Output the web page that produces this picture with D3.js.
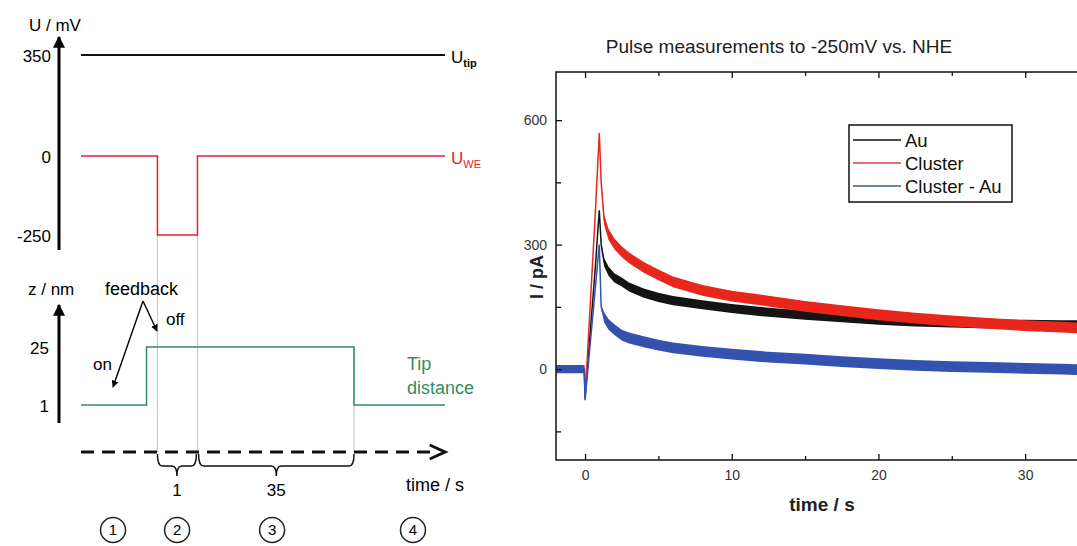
<!DOCTYPE html>
<html>
<head>
<meta charset="utf-8">
<script src="https://cdn.jsdelivr.net/npm/d3@7"></script>
<style>
  body { margin: 0; background: #fff; }
  svg { display: block; }
  text { font-family: "Liberation Sans", Arial, sans-serif; }
</style>
</head>
<body>
<svg width="1077" height="546"></svg>
<script>
// ---------- left: schematic of the pulse experiment ----------
// schematic time runs 0..100 (not to scale)
const uTipTime = [0, 100];
const uTipValue = [350, 350];
const uWeTime = [0, 21, 21, 32, 32, 100];
const uWeValue = [0, 0, -250, -250, 0, 0];
const zTime = [0, 18, 18, 75, 75, 100];
const zValue = [1, 1, 25, 25, 1, 1];
const uTicks = [350, 0, -250];
const zTicks = [25, 1];
const braceSpans = [[21, 31.7], [32.3, 75]];
const braceLabels = ['1', '35'];
const phaseLabels = ['1', '2', '3', '4'];
const phaseCenters = [8.8, 26.4, 52.5, 91.2];

// ---------- right: measured current transients ----------
const timeS = [-2, -0.05, 0, 0.7, 0.97, 1.1, 1.3, 1.6, 2, 2.5, 3, 4, 5, 6, 8, 10, 12.5, 15, 17.5, 20, 22.5, 25, 27.5, 30, 32.5, 35];
const auCurrent =      [0, 0, -70, 245, 383, 300, 258, 236, 220, 210, 198, 183, 173, 165, 155, 146, 137, 130, 124, 118, 114, 111, 109, 108, 107, 106];
const clusterCurrent = [0, 0, -70, 375, 569, 450, 360, 325, 302, 283, 268, 245, 227, 210, 190, 176, 164, 151, 141, 131, 123, 116, 110, 105, 101, 97];
const diffCurrent =    [0, 0, -75, 195, 300, 150, 125, 108, 95, 82, 75, 66, 58, 51, 43, 36, 29, 24, 18, 13, 9, 6, 4, 2, 0, -3];
// half width of the noise band (pA)
const auNoise =      [9, 9, 0, 0, 0, 4, 10, 11, 11, 11, 11, 11, 11, 11, 11, 11, 11, 11, 11, 11, 11, 11, 11, 11, 11, 11];
const clusterNoise = [9, 9, 0, 0, 0, 5, 12, 13, 13, 13, 13, 13, 13, 13, 13, 13, 13, 13, 13, 13, 13, 13, 13, 13, 13, 13];
const diffNoise =    [10, 10, 0, 0, 0, 5, 12, 13, 13, 13, 13, 13, 13, 13, 13, 13, 13, 13, 13, 13, 13, 13, 13, 13, 13, 13];
const seriesNames = ['Au', 'Cluster', 'Cluster - Au'];
const xMajor = [0, 10, 20, 30];
const xMinor = [5, 15, 25];
const yMajor = [0, 300, 600];
const yMinor = [-150, 150, 450];

const svg = d3.select('svg');

// ================= schematic =================
const sx = d3.scaleLinear().domain([0, 100]).range([81, 445]);
const su = d3.scaleLinear().domain([-250, 0, 350]).range([235, 156, 55]);
const sz = d3.scaleLinear().domain([1, 25]).range([405, 347]);
const green = '#2f8f5f';

svg.append('defs').html(`
  <marker id="tri" viewBox="0 0 10 10" refX="9" refY="5" markerWidth="4" markerHeight="4" orient="auto">
    <path d="M0,0 L10,5 L0,10 z" fill="#000"/>
  </marker>
  <marker id="triSmall" viewBox="0 0 10 10" refX="9" refY="5" markerWidth="5" markerHeight="5" orient="auto">
    <path d="M0,0 L10,5 L0,10 z" fill="#000"/>
  </marker>
  <clipPath id="plotClip"><rect x="556" y="72" width="524" height="388"/></clipPath>
`);

const left = svg.append('g');

// grey guide lines
left.selectAll('.guide')
    .data([21, 32])
    .join('line')
    .attr('x1', d => sx(d)).attr('x2', d => sx(d))
    .attr('y1', su(-250)).attr('y2', 452)
    .attr('stroke', '#c9c9c9').attr('stroke-width', 1.2);
left.append('line')
    .attr('x1', sx(75)).attr('x2', sx(75))
    .attr('y1', sz(25)).attr('y2', 452)
    .attr('stroke', '#c9c9c9').attr('stroke-width', 1.2);

// vertical axes with arrows
left.append('line').attr('x1', 59).attr('x2', 59).attr('y1', 250).attr('y2', 37)
    .attr('stroke', '#000').attr('stroke-width', 3).attr('marker-end', 'url(#tri)');
left.append('line').attr('x1', 59).attr('x2', 59).attr('y1', 423).attr('y2', 305)
    .attr('stroke', '#000').attr('stroke-width', 3).attr('marker-end', 'url(#tri)');

left.append('text').text('U / mV').attr('x', 29).attr('y', 31).style('font-size', '17px');
left.append('text').text('z / nm').attr('x', 28).attr('y', 295).style('font-size', '17px');
left.append('text').text('feedback').attr('x', 105).attr('y', 295).style('font-size', '18px');

left.selectAll('.uTick')
    .data(uTicks)
    .join('text')
    .text(d => d)
    .attr('x', 51).attr('y', d => su(d)).attr('dy', '0.4em')
    .attr('text-anchor', 'end').style('font-size', '17px');
left.selectAll('.zTick')
    .data(zTicks)
    .join('text')
    .text(d => d)
    .attr('x', 49).attr('y', d => sz(d)).attr('dy', '0.4em')
    .attr('text-anchor', 'end').style('font-size', '17px');

const stepLine = (xs, ys, yScale) => d3.line()
    .x((d, i) => sx(xs[i]))
    .y(d => yScale(d))(ys);

left.append('path').attr('d', stepLine(uTipTime, uTipValue, su))
    .attr('fill', 'none').attr('stroke', '#111').attr('stroke-width', 2);
left.append('path').attr('d', stepLine(uWeTime, uWeValue, su))
    .attr('fill', 'none').attr('stroke', '#e4232b').attr('stroke-width', 1.5);
left.append('path').attr('d', stepLine(zTime, zValue, sz))
    .attr('fill', 'none').attr('stroke', green).attr('stroke-width', 1.5);

const uTipLabel = left.append('text').attr('x', 451).attr('y', su(350) + 8).style('font-size', '17px');
uTipLabel.append('tspan').text('U');
uTipLabel.append('tspan').text('tip').attr('dy', 4).style('font-size', '11px').style('font-weight', 'bold');
const uWeLabel = left.append('text').attr('x', 451).attr('y', su(0) + 8).style('font-size', '17px').attr('fill', '#e4232b');
uWeLabel.append('tspan').text('U');
uWeLabel.append('tspan').text('WE').attr('dy', 4).style('font-size', '11px');

left.append('text').text('Tip').attr('x', 407).attr('y', 370).attr('fill', green).style('font-size', '18px');
left.append('text').text('distance').attr('x', 407).attr('y', 394).attr('fill', green).style('font-size', '18px');

// feedback on / off arrows
left.append('line').attr('x1', 143).attr('y1', 301).attr('x2', 113).attr('y2', 387)
    .attr('stroke', '#000').attr('stroke-width', 1.4).attr('marker-end', 'url(#triSmall)');
left.append('line').attr('x1', 143).attr('y1', 301).attr('x2', 157).attr('y2', 331)
    .attr('stroke', '#000').attr('stroke-width', 1.4).attr('marker-end', 'url(#triSmall)');
left.append('text').text('on').attr('x', 93).attr('y', 370).style('font-size', '17px');
left.append('text').text('off').attr('x', 166).attr('y', 325).style('font-size', '17px');

// dashed time arrow
left.append('line').attr('x1', sx(0)).attr('x2', sx(98)).attr('y1', 452).attr('y2', 452)
    .attr('stroke', '#111').attr('stroke-width', 3).attr('stroke-dasharray', '13,8');
left.append('polyline')
    .attr('points', `${sx(98) - 8},445 ${sx(100)},452 ${sx(98) - 8},459`)
    .attr('fill', 'none').attr('stroke', '#111').attr('stroke-width', 3);
left.append('text').text('time / s').attr('x', 406).attr('y', 491).style('font-size', '18px');

// braces
const bracePath = ([a, b]) => {
    const x0 = sx(a), x1 = sx(b), xm = (x0 + x1) / 2;
    return `M${x0},454 Q${x0},466 ${x0 + 5},466 L${xm - 5},466 Q${xm},466 ${xm},476 ` +
           `Q${xm},466 ${xm + 5},466 L${x1 - 5},466 Q${x1},466 ${x1},454`;
};
left.selectAll('.brace')
    .data(braceSpans)
    .join('path')
    .attr('d', bracePath)
    .attr('fill', 'none').attr('stroke', '#111').attr('stroke-width', 1.5);
left.selectAll('.braceLabel')
    .data(braceSpans)
    .join('text')
    .text((d, i) => braceLabels[i])
    .attr('x', d => (sx(d[0]) + sx(d[1])) / 2).attr('y', 496)
    .attr('text-anchor', 'middle').style('font-size', '17px');

// circled phase numbers
const phases = left.selectAll('.phase')
    .data(phaseCenters)
    .join('g')
    .attr('transform', d => `translate(${sx(d)},530)`);
phases.append('circle').attr('r', 12.5).attr('fill', 'none').attr('stroke', '#222').attr('stroke-width', 1.5);
phases.append('text').text((d, i) => phaseLabels[i])
    .attr('text-anchor', 'middle').attr('dy', '0.36em').style('font-size', '15px');

// ================= current transients =================
const plot = { left: 556, right: 1080, top: 72, bottom: 460 };
const x = d3.scaleLinear().domain([-1.98, 33.74]).range([plot.left, plot.right]);
const y = d3.scaleLinear().domain([-219, 716]).range([plot.bottom, plot.top]);

const right = svg.append('g');

right.append('text').text('Pulse measurements to -250mV vs. NHE')
    .attr('x', 779).attr('y', 53).attr('text-anchor', 'middle')
    .style('font-size', '19px').attr('fill', '#222');

const series = [
    { name: seriesNames[0], values: auCurrent, noise: auNoise, color: '#141414', legend: '#111' },
    { name: seriesNames[1], values: clusterCurrent, noise: clusterNoise, color: '#e8261c', legend: '#d8404a' },
    { name: seriesNames[2], values: diffCurrent, noise: diffNoise, color: '#3452b0', legend: '#44578c' }
];

const traces = right.append('g').attr('clip-path', 'url(#plotClip)');
series.forEach(s => {
    const band = d3.area()
        .x((d, i) => x(timeS[i]))
        .y0((d, i) => y(d - s.noise[i]))
        .y1((d, i) => y(d + s.noise[i]));
    const line = d3.line()
        .x((d, i) => x(timeS[i]))
        .y(d => y(d));
    traces.append('path').attr('d', band(s.values)).attr('fill', s.color);
    traces.append('path').attr('d', line(s.values))
        .attr('fill', 'none').attr('stroke', s.color).attr('stroke-width', 1.5);
});

// axes with inward ticks
const axisStyle = g => {
    g.select('.domain').remove();
    g.selectAll('.tick line').attr('stroke', '#111').attr('stroke-width', 1.3);
    g.selectAll('.tick text').style('font-size', '14px').attr('fill', '#333');
};
right.append('g').attr('transform', `translate(0,${plot.bottom})`)
    .call(d3.axisBottom(x).tickValues(xMajor).tickSize(-6).tickPadding(10)).call(axisStyle);
right.append('g').attr('transform', `translate(0,${plot.bottom})`)
    .call(d3.axisBottom(x).tickValues(xMinor).tickSize(-4).tickFormat('')).call(axisStyle);
right.append('g').attr('transform', `translate(0,${plot.top})`)
    .call(d3.axisTop(x).tickValues(xMajor).tickSize(-6).tickFormat('')).call(axisStyle);
right.append('g').attr('transform', `translate(0,${plot.top})`)
    .call(d3.axisTop(x).tickValues(xMinor).tickSize(-4).tickFormat('')).call(axisStyle);
right.append('g').attr('transform', `translate(${plot.left},0)`)
    .call(d3.axisLeft(y).tickValues(yMajor).tickSize(-6).tickPadding(9)).call(axisStyle);
right.append('g').attr('transform', `translate(${plot.left},0)`)
    .call(d3.axisLeft(y).tickValues(yMinor).tickSize(-5).tickFormat('')).call(axisStyle);

right.append('rect')
    .attr('x', plot.left).attr('y', plot.top)
    .attr('width', plot.right - plot.left).attr('height', plot.bottom - plot.top)
    .attr('fill', 'none').attr('stroke', '#111').attr('stroke-width', 1.5);

right.append('text').text('time / s')
    .attr('x', 822).attr('y', 511).attr('text-anchor', 'middle')
    .style('font-size', '19px').style('font-weight', 'bold').attr('fill', '#222');
right.append('text').text('I / pA')
    .attr('transform', 'translate(543,277) rotate(-90)').attr('text-anchor', 'middle')
    .style('font-size', '18px').style('font-weight', 'bold').attr('fill', '#222');

// legend
const legend = right.append('g').attr('transform', 'translate(849,125)');
legend.append('rect').attr('width', 163).attr('height', 77)
    .attr('fill', '#fff').attr('stroke', '#111').attr('stroke-width', 1.5);
const items = legend.selectAll('.item')
    .data(series)
    .join('g')
    .attr('transform', (d, i) => `translate(0,${15 + i * 23})`);
items.append('line').attr('x1', 4).attr('x2', 52)
    .attr('stroke', d => d.legend).attr('stroke-width', 1.4);
items.append('text').text(d => d.name)
    .attr('x', 56).attr('dy', '0.36em').style('font-size', '18.5px').attr('fill', '#111');
</script>
</body>
</html>
